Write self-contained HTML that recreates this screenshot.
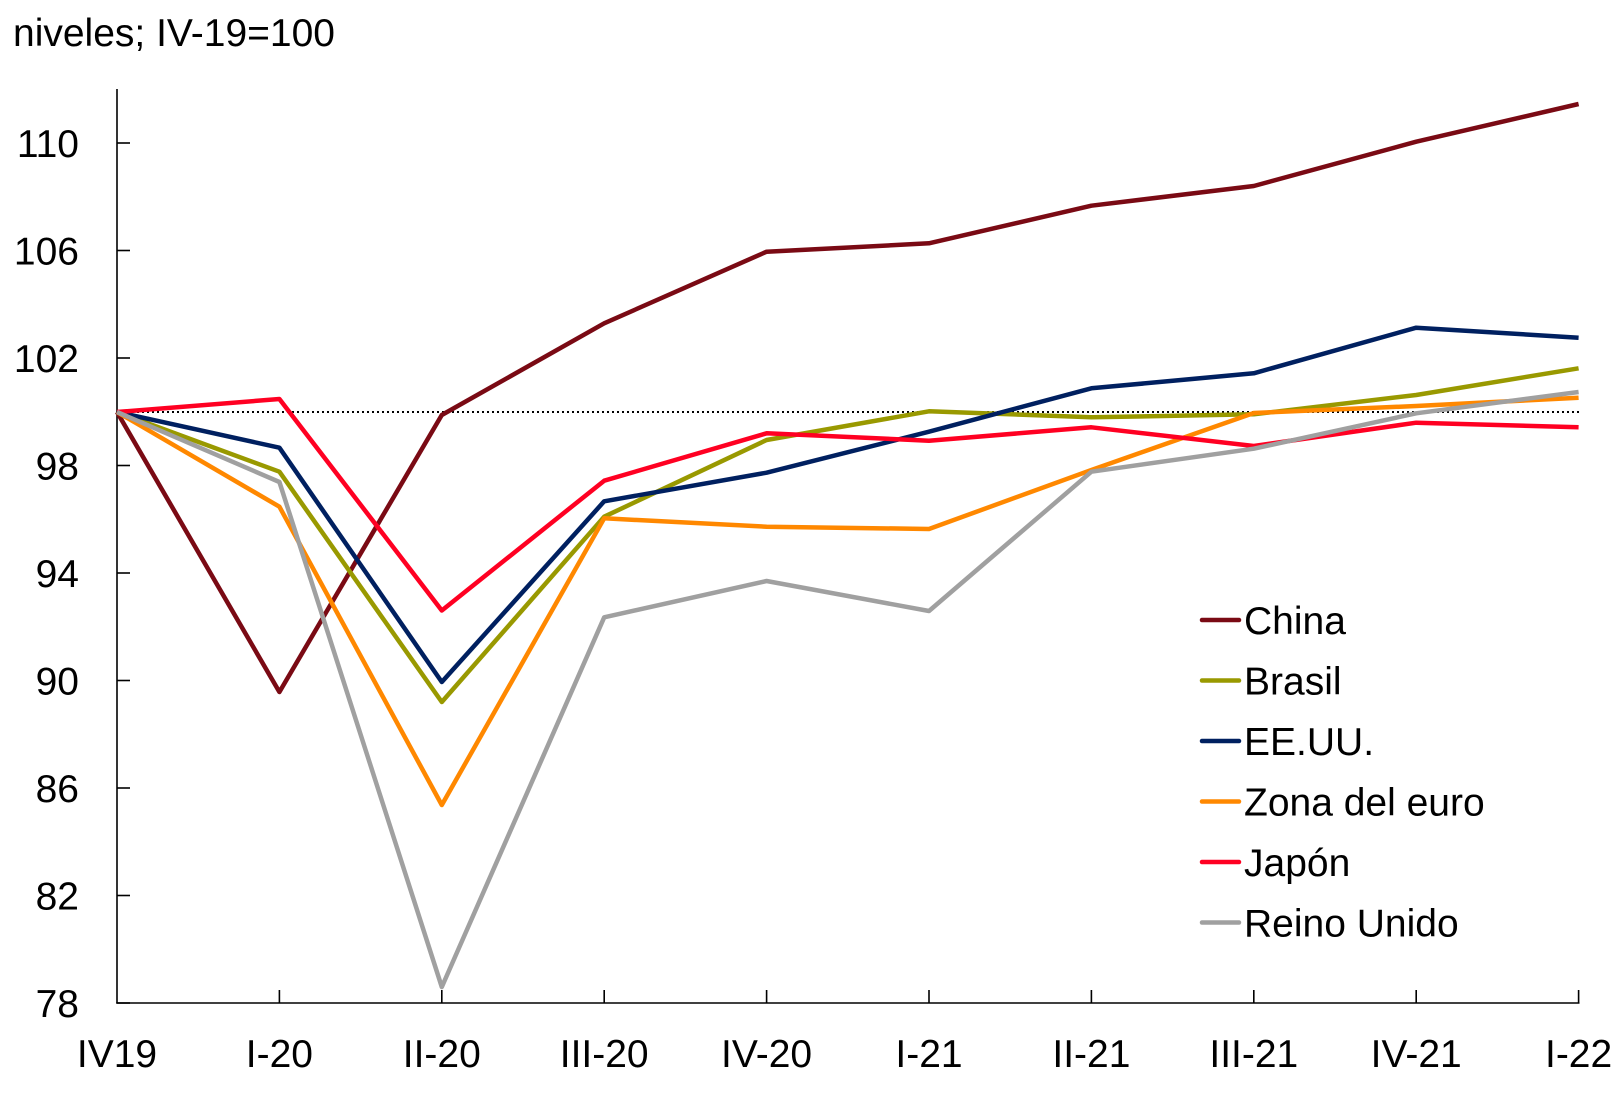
<!DOCTYPE html>
<html>
<head>
<meta charset="utf-8">
<style>
  html, body { margin: 0; padding: 0; background: #ffffff; }
  body { width: 1620px; height: 1100px; overflow: hidden; }
  svg { display: block; }
  text { font-family: "Liberation Sans", Arial, sans-serif; fill: #000; }
</style>
</head>
<body>
<svg width="1620" height="1100" viewBox="0 0 1620 1100" xmlns="http://www.w3.org/2000/svg">
  <rect width="1620" height="1100" fill="#ffffff"/>

  <!-- Title -->
  <text x="13" y="46" font-size="39">niveles; IV-19=100</text>

  <!-- Reference dotted line at 100 -->
  <line x1="117" y1="412" x2="1579" y2="412" stroke="#000" stroke-width="2" stroke-dasharray="2,3"/>

  <!-- Axes -->
  <line x1="117" y1="89" x2="117" y2="1003.5" stroke="#000" stroke-width="1.6"/>
  <line x1="116.2" y1="1003" x2="1579.5" y2="1003" stroke="#000" stroke-width="1.6"/>

  <!-- Y ticks -->
  <g stroke="#000" stroke-width="1.6">
    <line x1="117" y1="143" x2="130" y2="143"/>
    <line x1="117" y1="250.5" x2="130" y2="250.5"/>
    <line x1="117" y1="358" x2="130" y2="358"/>
    <line x1="117" y1="465.5" x2="130" y2="465.5"/>
    <line x1="117" y1="573" x2="130" y2="573"/>
    <line x1="117" y1="680.5" x2="130" y2="680.5"/>
    <line x1="117" y1="788" x2="130" y2="788"/>
    <line x1="117" y1="895.5" x2="130" y2="895.5"/>
    <line x1="117" y1="1003" x2="130" y2="1003"/>
  </g>

  <!-- X ticks -->
  <g stroke="#000" stroke-width="1.6">
    <line x1="279.4" y1="990" x2="279.4" y2="1003"/>
    <line x1="441.8" y1="990" x2="441.8" y2="1003"/>
    <line x1="604.2" y1="990" x2="604.2" y2="1003"/>
    <line x1="766.6" y1="990" x2="766.6" y2="1003"/>
    <line x1="929" y1="990" x2="929" y2="1003"/>
    <line x1="1091.4" y1="990" x2="1091.4" y2="1003"/>
    <line x1="1253.8" y1="990" x2="1253.8" y2="1003"/>
    <line x1="1416.2" y1="990" x2="1416.2" y2="1003"/>
    <line x1="1578.6" y1="990" x2="1578.6" y2="1003"/>
  </g>

  <!-- Y labels -->
  <g font-size="39" text-anchor="end">
    <text x="79" y="157">110</text>
    <text x="79" y="264.5">106</text>
    <text x="79" y="372">102</text>
    <text x="79" y="479.5">98</text>
    <text x="79" y="587">94</text>
    <text x="79" y="694.5">90</text>
    <text x="79" y="802">86</text>
    <text x="79" y="909.5">82</text>
    <text x="79" y="1017">78</text>
  </g>

  <!-- X labels -->
  <g font-size="39" text-anchor="middle">
    <text x="117" y="1067">IV19</text>
    <text x="279.4" y="1067">I-20</text>
    <text x="441.8" y="1067">II-20</text>
    <text x="604.2" y="1067">III-20</text>
    <text x="766.6" y="1067">IV-20</text>
    <text x="929" y="1067">I-21</text>
    <text x="1091.4" y="1067">II-21</text>
    <text x="1253.8" y="1067">III-21</text>
    <text x="1416.2" y="1067">IV-21</text>
    <text x="1578.6" y="1067">I-22</text>
  </g>

  <!-- Series -->
  <g fill="none" stroke-width="4.5" stroke-linejoin="round" stroke-linecap="butt">
    <!-- China -->
    <polyline stroke="#7a0a14" points="117,412 279.4,692 441.8,415 604.2,323.3 766.6,251.7 929,243.3 1091.4,205.7 1253.8,186 1416.2,141.7 1578.6,104"/>
    <!-- Brasil -->
    <polyline stroke="#999900" points="117,412 279.4,471.7 441.8,702 604.2,516.7 766.6,440 929,411.3 1091.4,417.3 1253.8,414.3 1416.2,395 1578.6,368.3"/>
    <!-- EE.UU. -->
    <polyline stroke="#002060" points="117,412 279.4,447.7 441.8,682 604.2,501.3 766.6,472.7 929,431.7 1091.4,388.3 1253.8,373.3 1416.2,327.7 1578.6,337.7"/>
    <!-- Zona del euro -->
    <polyline stroke="#ff8800" points="117,412 279.4,506.7 441.8,805 604.2,518.3 766.6,526.7 929,529 1091.4,470 1253.8,413 1416.2,406 1578.6,397.7"/>
    <!-- Japón -->
    <polyline stroke="#ff0022" points="117,412 279.4,399 441.8,610.5 604.2,480.7 766.6,433.3 929,440.7 1091.4,427.3 1253.8,446 1416.2,422.7 1578.6,427.3"/>
    <!-- Reino Unido -->
    <polyline stroke="#a0a0a0" points="117,412 279.4,482 441.8,987 604.2,617.3 766.6,581 929,611 1091.4,471.7 1253.8,448.7 1416.2,413.3 1578.6,392"/>
  </g>

  <!-- Legend -->
  <g stroke-width="4.5" stroke-linecap="round">
    <line x1="1202" y1="620" x2="1239" y2="620" stroke="#7a0a14"/>
    <line x1="1202" y1="680.5" x2="1239" y2="680.5" stroke="#999900"/>
    <line x1="1202" y1="741" x2="1239" y2="741" stroke="#002060"/>
    <line x1="1202" y1="801.5" x2="1239" y2="801.5" stroke="#ff8800"/>
    <line x1="1202" y1="862" x2="1239" y2="862" stroke="#ff0022"/>
    <line x1="1202" y1="922.5" x2="1239" y2="922.5" stroke="#a0a0a0"/>
  </g>
  <g font-size="39">
    <text x="1244" y="634">China</text>
    <text x="1244" y="694.5">Brasil</text>
    <text x="1244" y="755">EE.UU.</text>
    <text x="1244" y="815.5">Zona del euro</text>
    <text x="1244" y="876">Japón</text>
    <text x="1244" y="936.5">Reino Unido</text>
  </g>
</svg>
</body>
</html>
